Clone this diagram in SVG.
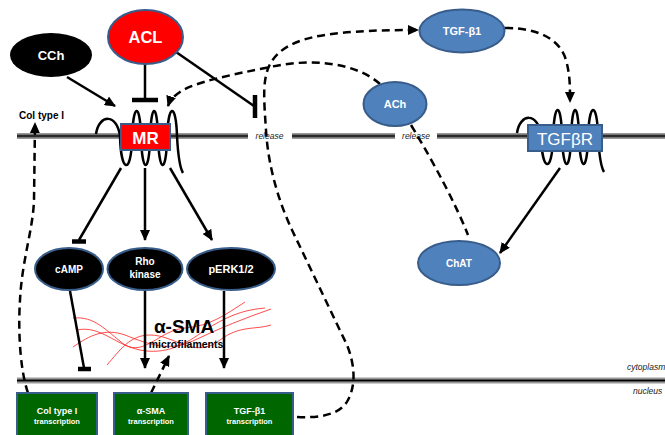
<svg xmlns="http://www.w3.org/2000/svg" xmlns:xlink="http://www.w3.org/1999/xlink" width="665" height="435" viewBox="0 0 665 435">
<style>
.conn{fill:none;stroke:#000;stroke-width:2.5}
.dash{stroke-dasharray:8,5}
.bar{stroke:#000;stroke-width:4.5;fill:none}
.lbl{font-family:"Liberation Sans",Arial,sans-serif;font-weight:bold;fill:#fff;text-anchor:middle}
.blk{font-family:"Liberation Sans",Arial,sans-serif;font-weight:bold;fill:#000}
.it{font-family:"Liberation Sans",Arial,sans-serif;font-style:italic;fill:#222;font-size:8.5px}
.blue{fill:#4F81BD;stroke:#385D8A;stroke-width:2}
.dark{fill:#000;stroke:#385D8A;stroke-width:2}
.green{fill:#006600;stroke:#385D8A;stroke-width:2}
.coil{fill:none;stroke:#000;stroke-width:2.5}
.fil{fill:none;stroke:#ff2020;stroke-width:0.8}
.m1{stroke:#999;stroke-width:6}
.m2{stroke:#555;stroke-width:3}
.m3{stroke:#000;stroke-width:1}
</style>
<defs>
<marker id="arr" markerUnits="userSpaceOnUse" markerWidth="12" markerHeight="10" refX="10" refY="5" orient="auto">
<path d="M0,0 L11,5 L0,10 z" fill="#000"/>
</marker>
<path id="coil" d="M96,134 C99,114 117,113 120,136 C121,174 131,174 132,140 C133,102 140,102 141,136 C142,174 149,174 150,140 C151,102 157,102 158,136 C159,174 166,174 167,140 C168,102 176,102 177,136 C178,155 180,168 183,173"/>
</defs>

<g id="membranes">
<g class="m1"><line x1="17" y1="136" x2="248" y2="136"/><line x1="292" y1="136" x2="395" y2="136"/><line x1="437" y1="136" x2="665" y2="136"/><line x1="17" y1="380.5" x2="665" y2="380.5"/></g>
<g class="m2"><line x1="17" y1="136" x2="248" y2="136"/><line x1="292" y1="136" x2="395" y2="136"/><line x1="437" y1="136" x2="665" y2="136"/><line x1="17" y1="380.5" x2="665" y2="380.5"/></g>
<g class="m3"><line x1="17" y1="136" x2="248" y2="136"/><line x1="292" y1="136" x2="395" y2="136"/><line x1="437" y1="136" x2="665" y2="136"/><line x1="17" y1="380.5" x2="665" y2="380.5"/></g>
<text class="it" x="269.5" y="139" text-anchor="middle">release</text>
<text class="it" x="416" y="139" text-anchor="middle">release</text>
<text class="it" x="627" y="370">cytoplasm</text>
<text class="it" x="633" y="394">nucleus</text>
</g>

<g id="microfilaments">
<path class="fil" d="M73,318 C95,316 105,330 125,345 C145,356 160,330 185,328 C210,326 225,315 245,302"/>
<path class="fil" d="M73,347 C90,335 105,328 125,335 C150,345 170,352 195,340 C220,328 245,318 271,309"/>
<path class="fil" d="M107,365 C120,350 130,335 150,335 C175,335 195,360 220,340 C240,325 255,330 271,325"/>
<path class="fil" d="M77,330 C100,325 115,345 140,350 C165,355 185,345 205,330 C225,318 240,310 265,308"/>
<text class="blk" x="184" y="333" font-size="19" text-anchor="middle">α-SMA</text>
<text class="blk" x="186" y="348" font-size="10.5" text-anchor="middle">microfilaments</text>
</g>

<g id="connectors">
<line class="conn" x1="67" y1="77" x2="115" y2="106" marker-end="url(#arr)"/>
<line class="conn" x1="145" y1="64" x2="145" y2="100"/>
<line class="bar" x1="132" y1="100" x2="158" y2="100"/>
<line class="conn" x1="176" y1="52" x2="254" y2="106"/>
<line class="bar" x1="255" y1="95" x2="255" y2="118"/>
<path class="conn dash" d="M380,84 C355,62 310,58 270,67 C230,75 195,82 180,92 C174,96 170,100 168,106" marker-end="url(#arr)"/>
<path class="conn dash" d="M297,417 C320,418 340,415 348,400 C356,385 355,365 347,345 L292,230 C278,200 268,165 266,130 C264,100 262,80 270,64 C285,38 320,30 418,30" marker-end="url(#arr)"/>
<path class="conn dash" d="M505,28 C540,28 560,40 566,60 C570,75 570,85 570,102" marker-end="url(#arr)"/>
<line class="conn" x1="560" y1="168" x2="500" y2="253" marker-end="url(#arr)"/>
<path class="conn dash" d="M411,125 Q450,190 468,235"/>
<line class="conn" x1="121" y1="168" x2="79" y2="240"/>
<line class="bar" x1="72" y1="241.5" x2="86" y2="241.5"/>
<line class="conn" x1="145" y1="168" x2="145" y2="240" marker-end="url(#arr)"/>
<line class="conn" x1="170" y1="168" x2="212" y2="240" marker-end="url(#arr)"/>
<line class="conn" x1="70" y1="291" x2="84" y2="368"/>
<line class="bar" x1="78" y1="369" x2="91" y2="369"/>
<line class="conn" x1="145" y1="291" x2="145" y2="368" marker-end="url(#arr)"/>
<line class="conn" x1="224" y1="291" x2="224" y2="368" marker-end="url(#arr)"/>
<path class="conn dash" d="M151,393 L169,356" marker-end="url(#arr)"/>
<path class="conn dash" d="M28,393 C20,370 18,330 20,300 C22,260 33,230 34,200 L35,123" marker-end="url(#arr)"/>
</g>

<g id="CCh"><ellipse cx="51" cy="55" rx="41" ry="22" fill="#000"/><text class="lbl" x="51" y="59.5" font-size="13">CCh</text></g>
<g id="ACL"><ellipse cx="145.5" cy="37" rx="37.5" ry="27" fill="#f00" stroke="#385D8A" stroke-width="2"/><text class="lbl" x="145.5" y="43" font-size="16.5">ACL</text></g>
<g id="MR"><use xlink:href="#coil" class="coil"/><rect x="121" y="124" width="49" height="26" fill="#f00" stroke="#385D8A" stroke-width="2"/><text class="lbl" x="145.5" y="143.5" font-size="17">MR</text></g>
<g id="ColLabel"><text class="blk" x="19" y="119" font-size="10">Col type I</text></g>
<g id="TGFb1"><ellipse cx="462" cy="31" rx="42.5" ry="21.5" class="blue"/><text class="lbl" x="462" y="35" font-size="11">TGF-β1</text></g>
<g id="ACh"><ellipse cx="395" cy="104" rx="31.5" ry="22" class="blue"/><text class="lbl" x="395" y="108" font-size="11">ACh</text></g>
<g id="TGFbR"><use xlink:href="#coil" class="coil" x="421" y="-1"/><rect x="528" y="125" width="74" height="26" fill="#4F81BD" stroke="#385D8A" stroke-width="2"/><text x="565" y="144.5" font-size="17" fill="#fff" text-anchor="middle" font-family="'Liberation Sans',Arial,sans-serif">TGFβR</text></g>
<g id="ChAT"><ellipse cx="459" cy="263" rx="41" ry="22" class="blue"/><text class="lbl" x="459" y="266.5" font-size="10">ChAT</text></g>
<g id="cAMP"><ellipse cx="69" cy="269" rx="34" ry="21" class="dark"/><text class="lbl" x="69" y="273" font-size="10">cAMP</text></g>
<g id="Rho"><ellipse cx="145" cy="269" rx="37.5" ry="21" class="dark"/><text class="lbl" x="145" y="265" font-size="10">Rho</text><text class="lbl" x="145" y="278" font-size="10">kinase</text></g>
<g id="pERK"><ellipse cx="231" cy="269" rx="44" ry="21" class="dark"/><text class="lbl" x="231" y="273" font-size="11">pERK1/2</text></g>
<g id="ColTx"><rect x="17" y="393" width="80" height="50" class="green"/><text class="lbl" x="57" y="414" font-size="9">Col type I</text><text class="lbl" x="57" y="424" font-size="7.5">transcription</text></g>
<g id="SMATx"><rect x="114" y="393" width="74" height="50" class="green"/><text class="lbl" x="151" y="414" font-size="9">α-SMA</text><text class="lbl" x="151" y="424" font-size="7.5">transcription</text></g>
<g id="TGFTx"><rect x="206" y="393" width="87" height="50" class="green"/><text class="lbl" x="249.5" y="414" font-size="9">TGF-β1</text><text class="lbl" x="249.5" y="424" font-size="7.5">transcription</text></g>
</svg>
